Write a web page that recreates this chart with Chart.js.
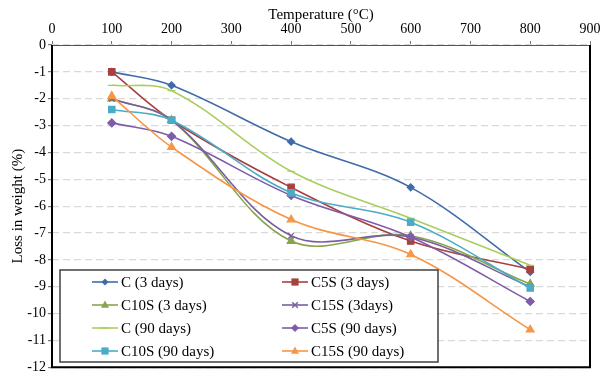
<!DOCTYPE html>
<html>
<head>
<meta charset="utf-8">
<script src="https://cdn.jsdelivr.net/npm/chart.js@4/dist/chart.umd.min.js"></script>
<style>
  body { margin: 0; background: #fff; }
  #wrap { width: 603px; height: 373px; }
</style>
</head>
<body>
<div id="wrap"><canvas id="lossChart" width="603" height="373"></canvas></div>
<script>
// Temperatures (°C) and loss in weight (%) per mix
const temps = [100, 200, 400, 600, 800];
const c3 = [-1.0, -1.5, -3.6, -5.3, -8.45];
const c5s3 = [-1.0, -2.8, -5.3, -7.3, -8.35];
const c10s3 = [-2.0, -2.8, -7.3, -7.1, -8.9];
const c15s3 = [-2.0, -2.8, -7.1, -7.15, -9.0];
const c90 = [-1.5, -1.7, -4.7, -6.45, -8.2];
const c5s90 = [-2.9, -3.4, -5.6, -7.15, -9.55];
const c10s90 = [-2.4, -2.8, -5.5, -6.6, -9.05];
const c15s90 = [-1.9, -3.8, -6.5, -7.8, -10.6];

const xTicks = [0, 100, 200, 300, 400, 500, 600, 700, 800, 900];
const yTicks = [0, -1, -2, -3, -4, -5, -6, -7, -8, -9, -10, -11, -12];

const seriesNames = ["C (3 days)", "C5S (3 days)", "C10S (3 days)", "C15S (3days)",
                     "C (90 days)", "C5S (90 days)", "C10S (90 days)", "C15S (90 days)"];
const seriesValues = [c3, c5s3, c10s3, c15s3, c90, c5s90, c10s90, c15s90];
const seriesColors = ["#3F6CA9", "#A8403D", "#86A64B", "#7A5E9E",
                      "#A9CE5E", "#7E5CA8", "#4BACC6", "#F79646"];
const seriesMarkers = ["rectRot", "rect", "triangle", "crossRot",
                       "line", "rectRot", "rect", "triangle"];
const markerSizes = [3.5, 4.5, 4.5, 4, 4, 4, 4.5, 4.5];

const serif = "'Liberation Serif', 'Times New Roman', serif";

function drawMarker(ctx, style, x, y, r, color) {
  ctx.save();
  ctx.fillStyle = color;
  ctx.strokeStyle = color;
  ctx.lineWidth = 1.5;
  ctx.beginPath();
  if (style === "rectRot") {
    ctx.moveTo(x, y - r); ctx.lineTo(x + r, y); ctx.lineTo(x, y + r); ctx.lineTo(x - r, y);
    ctx.closePath(); ctx.fill();
  } else if (style === "rect") {
    ctx.fillRect(x - r * 0.8, y - r * 0.8, r * 1.6, r * 1.6);
  } else if (style === "triangle") {
    ctx.moveTo(x, y - r); ctx.lineTo(x + r * 0.9, y + r * 0.6); ctx.lineTo(x - r * 0.9, y + r * 0.6);
    ctx.closePath(); ctx.fill();
  } else if (style === "crossRot") {
    const d = r * 0.7;
    ctx.moveTo(x - d, y - d); ctx.lineTo(x + d, y + d);
    ctx.moveTo(x + d, y - d); ctx.lineTo(x - d, y + d);
    ctx.stroke();
  } else {
    ctx.moveTo(x - r, y); ctx.lineTo(x + r, y); ctx.stroke();
  }
  ctx.restore();
}

// Frame round the plot area plus the boxed legend inside it
const frameAndLegend = {
  id: "frameAndLegend",
  afterDraw(chart) {
    const { ctx, chartArea: a } = chart;
    ctx.save();
    ctx.strokeStyle = "#555";
    ctx.lineWidth = 1;
    ctx.beginPath();
    ctx.moveTo(a.left, a.top + 0.5); ctx.lineTo(a.right, a.top + 0.5);
    ctx.stroke();
    ctx.strokeStyle = "#000";
    ctx.lineWidth = 2;
    ctx.beginPath();
    ctx.moveTo(a.left, a.top); ctx.lineTo(a.left, a.bottom);
    ctx.lineTo(a.right, a.bottom); ctx.lineTo(a.right, a.top);
    ctx.stroke();

    // legend
    const box = { x: 60, y: 270, w: 378, h: 92 };
    ctx.fillStyle = "#fff";
    ctx.fillRect(box.x, box.y, box.w, box.h);
    ctx.strokeStyle = "#404040";
    ctx.lineWidth = 1.5;
    ctx.strokeRect(box.x, box.y, box.w, box.h);
    ctx.font = "15px " + serif;
    ctx.textBaseline = "middle";
    ctx.textAlign = "left";
    seriesNames.forEach((name, i) => {
      const col = i % 2, row = Math.floor(i / 2);
      const lx = col === 0 ? 92 : 282;
      const ly = 282 + row * 23;
      ctx.strokeStyle = seriesColors[i];
      ctx.lineWidth = 1.6;
      ctx.beginPath();
      ctx.moveTo(lx, ly); ctx.lineTo(lx + 26, ly);
      ctx.stroke();
      drawMarker(ctx, seriesMarkers[i], lx + 13, ly, markerSizes[i], seriesColors[i]);
      ctx.fillStyle = "#000";
      ctx.fillText(name, lx + 29, ly + 1);
    });
    ctx.restore();
  }
};

const datasets = seriesNames.map((name, i) => ({
  label: name,
  data: temps.map((t, j) => ({ x: t, y: seriesValues[i][j] })),
  borderColor: seriesColors[i],
  backgroundColor: seriesColors[i],
  borderWidth: 1.6,
  pointStyle: seriesMarkers[i],
  pointRadius: markerSizes[i],
  pointBorderWidth: 1.2,
  tension: 0.35,
  order: seriesNames.length - i
}));

new Chart(document.getElementById("lossChart"), {
  type: "line",
  data: { datasets: datasets },
  options: {
    responsive: false,
    animation: false,
    layout: { padding: { top: 0, right: 13, bottom: 5, left: 0 } },
    plugins: {
      legend: { display: false },
      tooltip: { enabled: false }
    },
    scales: {
      x: {
        type: "linear",
        position: "top",
        min: 0,
        max: 900,
        afterFit: scale => {
          scale.height = 45;
          scale.paddingLeft = 0;
          scale.paddingRight = 0;
        },
        afterBuildTicks: scale => { scale.ticks = xTicks.map(v => ({ value: v })); },
        ticks: { color: "#000", font: { family: serif, size: 14 }, padding: 3, maxRotation: 0 },
        grid: { drawOnChartArea: false, tickLength: 4, tickColor: "#777" },
        border: { display: false },
        title: {
          display: true,
          text: "Temperature (°C)",
          color: "#000",
          font: { family: serif, size: 15 },
          padding: { top: 6, bottom: 0 }
        }
      },
      y: {
        min: -12,
        max: 0,
        afterFit: scale => {
          scale.width = 52;
          scale.paddingTop = 0;
          scale.paddingBottom = 0;
        },
        afterBuildTicks: scale => { scale.ticks = yTicks.map(v => ({ value: v })); },
        ticks: { color: "#000", font: { family: serif, size: 14 }, padding: 2 },
        grid: {
          color: "#D9D9D9",
          lineWidth: 1.2,
          tickLength: 4,
          tickColor: "#777",
          tickBorderDash: []
        },
        border: { display: false, dash: [7, 4] },
        title: {
          display: true,
          text: "Loss in weight (%)",
          color: "#000",
          font: { family: serif, size: 15 },
          padding: { top: 9, bottom: 0 }
        }
      }
    }
  },
  plugins: [frameAndLegend]
});
</script>
</body>
</html>
